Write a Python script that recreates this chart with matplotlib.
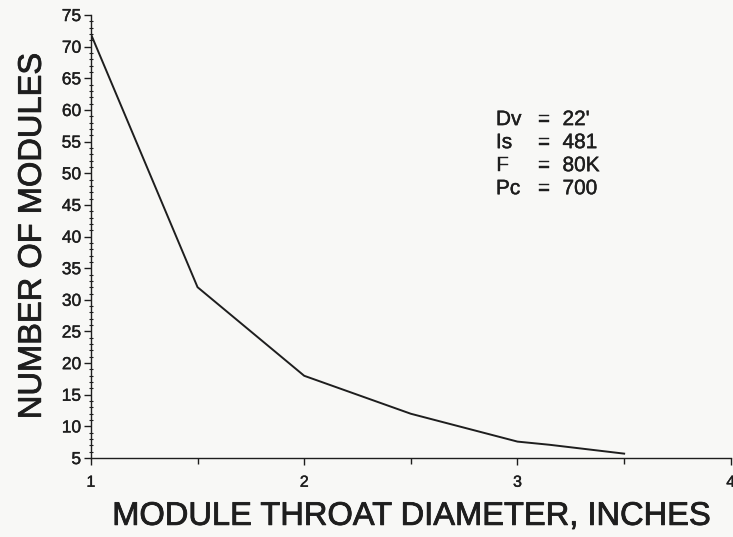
import matplotlib.pyplot as plt
import matplotlib.patheffects as pe
from matplotlib.ticker import MultipleLocator

plt.rcParams['font.family'] = ['Liberation Sans', 'DejaVu Sans']

diameter = [1.0, 1.5, 2.0, 2.5, 3.0, 3.15, 3.5]
modules = [72.0, 32.0, 18.0, 12.0, 7.6, 7.1, 5.7]

param_names = ['Dv', 'Is', 'F', 'Pc']
param_values = ["22'", '481', '80K', '700']

bg = '#f8f8f6'
ink = '#1e1e1e'
heavy = [pe.withStroke(linewidth=0.6, foreground=ink)]
light = [pe.withStroke(linewidth=0.3, foreground=ink)]

fig = plt.figure(figsize=(7.33, 5.37), dpi=100, facecolor=bg)
ax = fig.add_axes([0.124, 0.147, 0.873, 0.825], facecolor=bg)

ax.plot(diameter, modules, color=ink, linewidth=1.4)

ax.set_xlim(1, 4)
ax.set_ylim(5, 75)
ax.xaxis.set_major_locator(MultipleLocator(1))
ax.xaxis.set_minor_locator(MultipleLocator(0.5))
ax.yaxis.set_major_locator(MultipleLocator(5))
ax.yaxis.set_minor_locator(MultipleLocator(1))

for side in ('top', 'right'):
    ax.spines[side].set_visible(False)
for side in ('left', 'bottom'):
    ax.spines[side].set_color(ink)
    ax.spines[side].set_linewidth(1.0)

ax.tick_params(axis='both', which='major', colors=ink,
               length=5, width=1.0, direction='out')
ax.tick_params(axis='y', which='major', labelsize=12.5, pad=2)
ax.tick_params(axis='x', which='major', labelsize=11.5, pad=7)
ax.tick_params(axis='y', which='minor', length=3, width=0.8, direction='inout', colors=ink)
ax.tick_params(axis='x', which='minor', length=4, width=1.0, direction='out', colors=ink)
for lbl in ax.get_xticklabels() + ax.get_yticklabels():
    lbl.set_path_effects(light)

ax.set_xlabel('MODULE THROAT DIAMETER, INCHES', fontsize=23.5, color=ink,
              labelpad=8, path_effects=heavy)
ax.set_ylabel('NUMBER OF MODULES', fontsize=23.5, color=ink,
              labelpad=10, path_effects=heavy)

y0 = 0.764
dy = 0.052
for i, (name, val) in enumerate(zip(param_names, param_values)):
    y = y0 - i * dy
    kw = dict(transform=ax.transAxes, fontsize=15, color=ink, va='center',
              path_effects=light)
    ax.text(0.633, y, name, **kw)
    ax.text(0.698, y, '=', **kw)
    ax.text(0.737, y, val, **kw)

fig.savefig('out.png', dpi=100, facecolor=bg)
